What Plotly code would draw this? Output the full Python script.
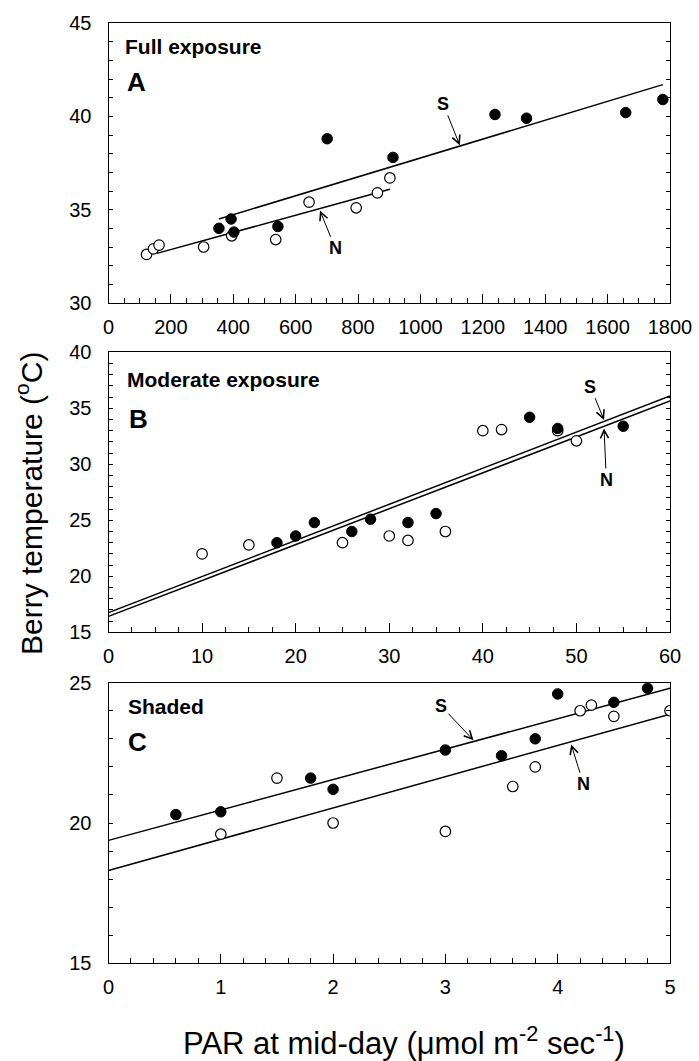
import plotly.graph_objects as go

# ---------------- data ----------------
# Panel A: Full exposure
a_N_x = [122, 144, 162, 305, 395, 536, 643, 794, 862, 902]
a_N_y = [32.6, 32.9, 33.1, 33.0, 33.6, 33.4, 35.4, 35.1, 35.9, 36.7]
a_S_x = [354, 393, 402, 543, 701, 912, 1239, 1340, 1658, 1777]
a_S_y = [34.0, 34.5, 33.8, 34.1, 38.8, 37.8, 40.1, 39.9, 40.2, 40.9]
a_S_fit_x = [354, 1777]
a_S_fit_y = [34.5, 41.7]
a_N_fit_x = [155, 902]
a_N_fit_y = [32.66, 36.09]

# Panel B: Moderate exposure
b_N_x = [10, 15, 25, 30, 32, 36, 40, 42, 48, 50]
b_N_y = [22.0, 22.8, 23.0, 23.6, 23.2, 24.0, 33.0, 33.1, 33.0, 32.1]
b_S_x = [18, 20, 22, 26, 28, 32, 35, 45, 48, 55]
b_S_y = [23.0, 23.6, 24.8, 24.0, 25.1, 24.8, 25.6, 34.2, 33.2, 33.4]
b_S_fit_x = [0, 60]
b_S_fit_y = [16.76, 36.1]
b_N_fit_x = [0, 60]
b_N_fit_y = [16.42, 35.65]

# Panel C: Shaded
c_N_x = [1.0, 1.5, 2.0, 3.0, 3.6, 3.8, 4.2, 4.3, 4.5, 5.0]
c_N_y = [19.6, 21.6, 20.0, 19.7, 21.3, 22.0, 24.0, 24.2, 23.8, 24.0]
c_S_x = [0.6, 1.0, 1.8, 2.0, 3.0, 3.5, 3.8, 4.0, 4.5, 4.8]
c_S_y = [20.3, 20.4, 21.6, 21.2, 22.6, 22.4, 23.0, 24.6, 24.3, 24.8]
c_S_fit_x = [0, 5]
c_S_fit_y = [19.38, 24.8]
c_N_fit_x = [0, 5]
c_N_fit_y = [18.31, 23.88]

panel_titles = ["Full exposure", "Moderate exposure", "Shaded"]
panel_letters = ["A", "B", "C"]

# ---------------- figure ----------------
W, H = 699, 1061
FONT = "Liberation Sans, Arial, sans-serif"
fig = go.Figure()


def add_panel(k, nx, ny, sx, sy, sfx, sfy, nfx, nfy):
    xa = "x" if k == 1 else f"x{k}"
    ya = "y" if k == 1 else f"y{k}"
    fig.add_trace(go.Scatter(x=sfx, y=sfy, mode="lines", xaxis=xa, yaxis=ya,
                             line=dict(color="black", width=1.5), showlegend=False))
    fig.add_trace(go.Scatter(x=nfx, y=nfy, mode="lines", xaxis=xa, yaxis=ya,
                             line=dict(color="black", width=1.5), showlegend=False))
    fig.add_trace(go.Scatter(x=nx, y=ny, mode="markers", xaxis=xa, yaxis=ya,
                             marker=dict(symbol="circle", size=10.5, color="white",
                                         line=dict(color="black", width=1.2)),
                             showlegend=False))
    fig.add_trace(go.Scatter(x=sx, y=sy, mode="markers", xaxis=xa, yaxis=ya,
                             marker=dict(symbol="circle", size=10.5, color="black",
                                         line=dict(color="black", width=1)),
                             showlegend=False))


add_panel(1, a_N_x, a_N_y, a_S_x, a_S_y, a_S_fit_x, a_S_fit_y, a_N_fit_x, a_N_fit_y)
add_panel(2, b_N_x, b_N_y, b_S_x, b_S_y, b_S_fit_x, b_S_fit_y, b_N_fit_x, b_N_fit_y)
add_panel(3, c_N_x, c_N_y, c_S_x, c_S_y, c_S_fit_x, c_S_fit_y, c_N_fit_x, c_N_fit_y)

xdom = [108.5 / W, 670 / W]
ydoms = [[1 - 303 / H, 1 - 23 / H],
         [1 - 632.3 / H, 1 - 352.3 / H],
         [1 - 963.3 / H, 1 - 682.7 / H]]
xranges = [[0, 1800], [0, 60], [0, 5]]
xdt = [200, 10, 1]
xminor = [50, 2.5, 0.2]
yranges = [[30, 45], [15, 40], [15, 25]]

tickfont = dict(family=FONT, size=20, color="black")
layout = dict(
    width=W, height=H, autosize=False,
    margin=dict(l=0, r=0, t=0, b=0, pad=0),
    paper_bgcolor="white", plot_bgcolor="white",
    showlegend=False, template="none",
)
for i in range(3):
    k = i + 1
    xkey = "xaxis" if k == 1 else f"xaxis{k}"
    ykey = "yaxis" if k == 1 else f"yaxis{k}"
    ya = "y" if k == 1 else f"y{k}"
    xa = "x" if k == 1 else f"x{k}"
    layout[xkey] = dict(
        domain=xdom, anchor=ya, range=xranges[i], dtick=xdt[i], tick0=0,
        automargin=False,
        showgrid=False, zeroline=False, showline=True, linecolor="black",
        linewidth=1, mirror=True, ticks="inside", ticklen=9, tickwidth=1,
        tickcolor="black", tickfont=tickfont, ticklabelstandoff=6,
        minor=dict(dtick=xminor[i], tick0=0, ticks="inside", ticklen=5,
                   tickwidth=1, tickcolor="black", showgrid=False),
    )
    layout[ykey] = dict(
        domain=ydoms[i], anchor=xa, range=yranges[i], dtick=5, tick0=0,
        automargin=False,
        showgrid=False, zeroline=False, showline=True, linecolor="black",
        linewidth=1, mirror="ticks", ticks="inside", ticklen=4, tickwidth=1,
        tickcolor="black", tickfont=tickfont, ticklabelstandoff=12,
        minor=dict(dtick=1, tick0=0, ticks="inside", ticklen=4,
                   tickwidth=1, tickcolor="black", showgrid=False),
    )

fig.update_layout(**layout)

ann = []
# panel titles and letters
title_pos = [(123, 47), (125, 380), (126, 706.7)]
letter_pos = [(125, 82), (127, 419), (126, 741.7)]
for i in range(3):
    tx, ty = title_pos[i]
    ann.append(dict(x=tx / W, y=1 - ty / H, xref="paper", yref="paper",
                    text=f"<b>{panel_titles[i]}</b>", showarrow=False,
                    xanchor="left", yanchor="middle",
                    font=dict(family=FONT, size=21, color="black")))
    lx, ly = letter_pos[i]
    ann.append(dict(x=lx / W, y=1 - ly / H, xref="paper", yref="paper",
                    text=f"<b>{panel_letters[i]}</b>", showarrow=False,
                    xanchor="left", yanchor="middle",
                    font=dict(family=FONT, size=26, color="black")))

# S / N arrow labels: (label, axis index, head x, head y, text x, text y)
arrows = [
    ("S", 1, 1126, 38.45, 1073, 40.67),
    ("N", 1, 678, 34.95, 727, 32.93),
    ("S", 2, 52.95, 33.95, 51.5, 36.93),
    ("N", 2, 52.95, 33.2, 53.2, 28.6),
    ("S", 3, 3.25, 22.95, 2.96, 24.18),
    ("N", 3, 4.12, 22.8, 4.23, 21.38),
]
for lab, k, hx, hy, tx, ty in arrows:
    xa = "x" if k == 1 else f"x{k}"
    ya = "y" if k == 1 else f"y{k}"
    ann.append(dict(x=hx, y=hy, xref=xa, yref=ya, ax=tx, ay=ty, axref=xa, ayref=ya,
                    text=f"<b>{lab}</b>", showarrow=True, arrowhead=5,
                    arrowsize=1.6, arrowwidth=1, arrowcolor="black",
                    font=dict(family=FONT, size=18, color="black")))

# axis titles
ann.append(dict(x=29 / W, y=1 - 504 / H, xref="paper", yref="paper",
                text="Berry temperature (<sup>o</sup>C)", showarrow=False,
                textangle=-90, xanchor="center", yanchor="middle",
                font=dict(family=FONT, size=30, color="black")))
ann.append(dict(x=404 / W, y=1 - 1041 / H, xref="paper", yref="paper",
                text="PAR at mid-day (\u03bcmol m<sup>-2</sup> sec<sup>-1</sup>)",
                showarrow=False, xanchor="center", yanchor="middle",
                font=dict(family=FONT, size=31, color="black")))

fig.update_layout(annotations=ann)
fig.write_html("out.html",
               config={"displayModeBar": False},
               post_script="document.body.style.margin='0px';"
                           "document.body.style.padding='0px';")
